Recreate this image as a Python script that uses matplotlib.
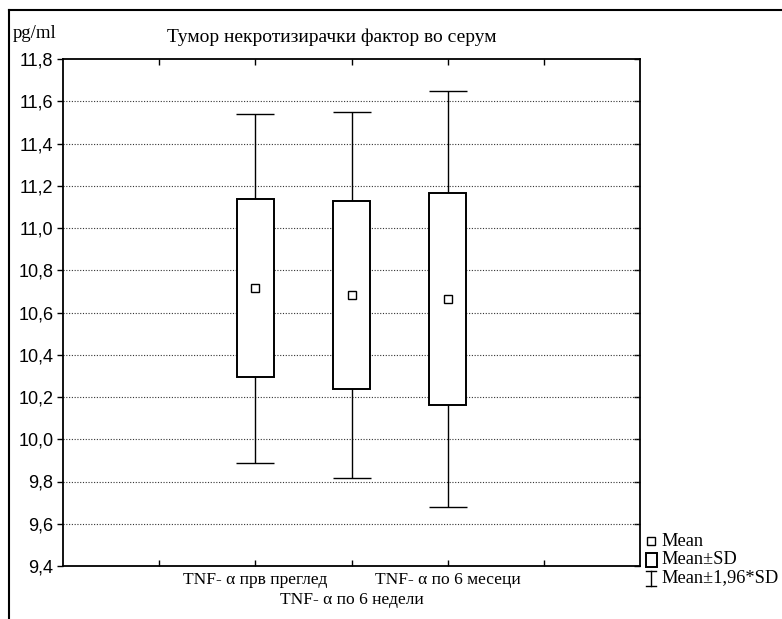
import matplotlib
matplotlib.use("Agg")
import matplotlib.pyplot as plt
from matplotlib.lines import Line2D
from matplotlib.patches import Rectangle
from matplotlib.ticker import FuncFormatter, FixedLocator
from matplotlib.transforms import blended_transform_factory

# Serum TNF-alpha, mean and standard deviation per visit
categories = ["TNF- α прв преглед", "TNF- α по 6 недели", "TNF- α по 6 месеци"]
means = [10.715, 10.683, 10.665]
sds = [0.421, 0.443, 0.503]
positions = [2, 3, 4]
y_ticks = [9.4, 9.6, 9.8, 10.0, 10.2, 10.4, 10.6, 10.8, 11.0, 11.2, 11.4, 11.6, 11.8]

W, H = 782, 619
fig = plt.figure(figsize=(W / 100, H / 100), dpi=100)

def fx(px):
    return px / W

def fy(py):
    return 1 - py / H

ax = fig.add_axes([fx(63), fy(566), fx(640) - fx(63), fy(59) - fy(566)])

serif = "Liberation Serif"
sans = "Liberation Sans"

# dotted horizontal grid
for y in y_ticks[1:-1]:
    ax.axhline(y, color="#333333", lw=0.8, ls=(0, (1, 1.5)), zorder=1)

# whiskers at mean +/- 1.96*SD
whisk = [1.96 * s for s in sds]
ax.errorbar(positions, means, yerr=whisk, fmt="none", ecolor="black",
            elinewidth=1.0, capsize=14, capthick=1.0, zorder=2)

# boxes at mean +/- SD
ax.bar(positions, [2 * s for s in sds], bottom=[m - s for m, s in zip(means, sds)],
       width=0.39, color="white", edgecolor="black", linewidth=1.4, zorder=3)

# mean markers
ax.plot(positions, means, ls="none", marker="s", ms=6, mfc="white",
        mec="black", mew=1.0, zorder=4)

ax.set_xlim(0, 6)
ax.set_ylim(9.4, 11.8)
ax.yaxis.set_major_locator(FixedLocator(y_ticks))
ax.yaxis.set_major_formatter(FuncFormatter(lambda v, p: f"{v:.1f}".replace(".", ",")))
ax.tick_params(axis="y", which="major", direction="out", length=4, width=1,
               labelsize=13, pad=3, right=False)
for lab in ax.get_yticklabels():
    lab.set_fontfamily(sans)

# right-side inward ticks
ax2 = ax.secondary_yaxis("right")
ax2.yaxis.set_major_locator(FixedLocator(y_ticks))
ax2.tick_params(direction="in", length=4, width=1, labelright=False)
ax2.spines["right"].set_visible(False)

ax.xaxis.set_major_locator(FixedLocator([1, 2, 3, 4, 5]))
ax.set_xticklabels([])
ax.tick_params(axis="x", direction="in", length=4, width=1, top=True)

for sp in ax.spines.values():
    sp.set_linewidth(1.3)

# category labels, staggered
label_rows = [580, 600, 580]
xfig = blended_transform_factory(ax.transData, fig.transFigure)
for pos, cat, row in zip(positions, categories, label_rows):
    ax.text(pos, fy(row), cat, transform=xfig, ha="center", va="center",
            fontsize=12.6, fontfamily=serif)

fig.text(fx(332), fy(37), "Тумор некротизирачки фактор во серум", ha="center",
         va="center", fontsize=14, fontfamily=serif)
fig.text(fx(13), fy(33), "pg/ml", ha="left", va="center", fontsize=13.5, fontfamily=serif)

# outer frame
fig.add_artist(Line2D([fx(9), fx(9)], [fy(10), 0], color="black", lw=1.5,
                      transform=fig.transFigure))
fig.add_artist(Line2D([fx(9), 1], [fy(10), fy(10)], color="black", lw=1.5,
                      transform=fig.transFigure))

# legend
fig.add_artist(Line2D([fx(651)], [fy(541)], marker="s", ms=5.5, mfc="white",
                      mec="black", mew=1.0, ls="none", transform=fig.transFigure))
fig.add_artist(Rectangle((fx(646), fy(567)), fx(11), fy(553) - fy(567), fill=False,
                         ec="black", lw=1.4, transform=fig.transFigure))
fig.add_artist(Line2D([fx(651), fx(651)], [fy(571), fy(586)], color="black", lw=1.0,
                      transform=fig.transFigure))
fig.add_artist(Line2D([fx(646), fx(656)], [fy(571), fy(571)], color="black", lw=1.0,
                      transform=fig.transFigure))
fig.add_artist(Line2D([fx(646), fx(656)], [fy(586), fy(586)], color="black", lw=1.0,
                      transform=fig.transFigure))
for txt, yy in [("Mean", 541), ("Mean±SD", 560), ("Mean±1,96*SD", 578)]:
    fig.text(fx(661), fy(yy), txt, ha="left", va="center", fontsize=13.2, fontfamily=serif)

fig.savefig("out.png", dpi=100)
